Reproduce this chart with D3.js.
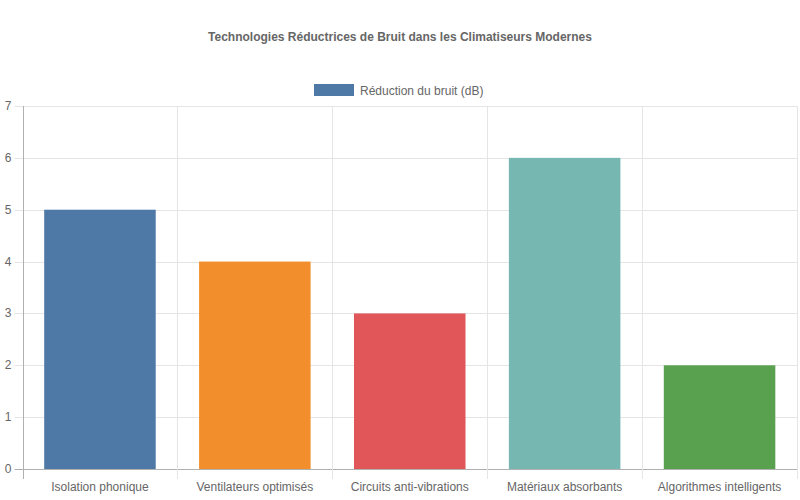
<!DOCTYPE html>
<html>
<head>
<meta charset="utf-8">
<script src="https://cdn.jsdelivr.net/npm/d3@7"></script>
<style>
  body { margin: 0; background: #fff; }
  text { font-family: "Liberation Sans", Arial, Helvetica, sans-serif; fill: #666; }
</style>
</head>
<body>
<div id="chart"></div>
<script>
// data
const categories = ["Isolation phonique", "Ventilateurs optimisés", "Circuits anti-vibrations", "Matériaux absorbants", "Algorithmes intelligents"];
const values = [5, 4, 3, 6, 2];
const colors = ["#4e79a7", "#f28e2b", "#e15759", "#76b7b2", "#59a14f"];
const yTicks = [0, 1, 2, 3, 4, 5, 6, 7];
const seriesName = "Réduction du bruit (dB)";
const title = "Technologies Réductrices de Bruit dans les Climatiseurs Modernes";

const width = 800, height = 500;
const margin = {top: 106, right: 3, bottom: 31, left: 22.5};

let svg = d3.select("#chart").append("svg")
    .attr("width", width).attr("height", height);

svg.append("text").attr("x", width / 2).attr("y", 41)
    .attr("text-anchor", "middle").attr("font-size", 12).attr("font-weight", "bold")
    .text(title);

// legend
let leg = svg.append("g").attr("transform", "translate(314,84)");
leg.append("rect").attr("width", 40).attr("height", 12).attr("fill", colors[0]);
leg.append("text").attr("x", 46).attr("y", 10.5).attr("font-size", 12).text(seriesName);

let x = d3.scaleBand().domain(categories)
    .range([margin.left, width - margin.right]).paddingInner(0).paddingOuter(0);
let y = d3.scaleLinear().domain([0, 7]).range([height - margin.bottom, margin.top]);

let g = svg.append("g");

// horizontal grid
g.selectAll("line.hg").data(yTicks).enter().append("line")
    .attr("x1", margin.left - 8).attr("x2", width - margin.right)
    .attr("y1", d => Math.round(y(d)) + 0.5).attr("y2", d => Math.round(y(d)) + 0.5)
    .attr("stroke", d => d === 0 ? "#b0b0b0" : "#e5e5e5");

// vertical grid at category edges
let edges = categories.map(c => x(c)).concat([width - margin.right]);
g.selectAll("line.vg").data(edges).enter().append("line")
    .attr("x1", d => Math.round(d) + 0.5).attr("x2", d => Math.round(d) + 0.5)
    .attr("y1", margin.top).attr("y2", height - margin.bottom + 10)
    .attr("stroke", (d, i) => i === 0 ? "#b0b0b0" : "#e5e5e5");

// bars
let bw = x.bandwidth() * 0.72;
g.selectAll("rect.bar").data(values).enter().append("rect")
    .attr("x", (d, i) => x(categories[i]) + (x.bandwidth() - bw) / 2)
    .attr("y", d => y(d))
    .attr("width", bw)
    .attr("height", d => y(0) - y(d))
    .attr("fill", (d, i) => colors[i]);

// y labels
g.selectAll("text.yl").data(yTicks).enter().append("text")
    .attr("x", margin.left - 11).attr("y", d => y(d) + 4)
    .attr("text-anchor", "end").attr("font-size", 12)
    .text(d => d);

// x labels
g.selectAll("text.xl").data(categories).enter().append("text")
    .attr("x", d => x(d) + x.bandwidth() / 2).attr("y", height - margin.bottom + 22)
    .attr("text-anchor", "middle").attr("font-size", 12)
    .text(d => d);
</script>
</body>
</html>
